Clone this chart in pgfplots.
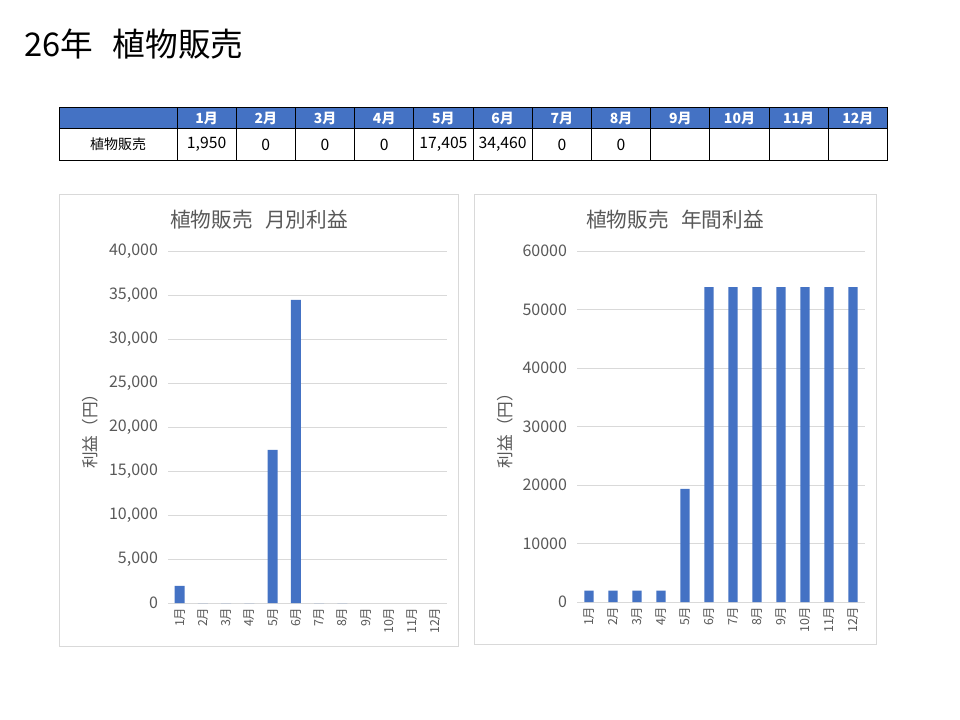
\documentclass[border=0pt]{standalone}
\usepackage{fontspec}
\setmainfont{Noto Sans CJK JP}
\usepackage{pgfplots}
\pgfplotsset{compat=1.18}

\definecolor{barblue}{HTML}{4472C4}
\definecolor{txtgray}{HTML}{595959}
\definecolor{gridgray}{HTML}{D9D9D9}
\newcommand{\fs}[1]{\fontsize{#1}{#1}\selectfont}

\pgfplotsset{
  chartstyle/.style={
    scale only axis, ybar, ymin=0,
    xmin=0.5, xmax=12.5, xtick={1,...,12},
    xticklabels={1月,2月,3月,4月,5月,6月,7月,8月,9月,10月,11月,12月},
    major tick length=0,
    ymajorgrids, grid style={gridgray, line width=0.75pt},
    axis x line*=bottom, axis y line*=left,
    x axis line style={-, draw=gridgray, line width=0.75pt},
    y axis line style={draw=none},
    tick label style={text=txtgray},
    xticklabel style={font=\fs{9.3pt}, rotate=90, anchor=east},
    yticklabel style={font=\fs{12pt}, xshift=-4pt},
    scaled y ticks=false,
    /pgf/number format/assume math mode=true,
    ylabel={利益（円）},
  },
}

\begin{document}
\begin{tikzpicture}
\begin{scope}[x=0.75pt,y=-0.75pt]
  \fill[white] (0,0) rectangle (960,720);
  % title
  \node[anchor=west, inner sep=0pt, font=\fs{24.5pt}] at (24,44) {26年\hspace{0.6em}植物販売};
  % table
  \fill[barblue] (59.5,107.5) rectangle (887.5,128.5);
  \draw[black, line width=0.75pt] (59.5,107.5) rectangle (887.5,161);
  \draw[black, line width=0.75pt] (59.5,128.5) -- (887.5,128.5);
  \foreach \k in {0,...,11} {
    \draw[black, line width=0.75pt] ({177+59.21*\k},107.5) -- ({177+59.21*\k},161);
  }
  \foreach \m in {1,...,12} {
    \node[text=white, font=\bfseries\fs{10.5pt}] at ({177+59.21*(\m-0.5)},118) {\m 月};
  }
  \node[font=\fs{10.5pt}] at (118,144.5) {植物販売};
  \foreach \m/\v in {1/{1,950},2/0,3/0,4/0,5/{17,405},6/{34,460},7/0,8/0} {
    \node[font=\fs{11.8pt}] at ({177+59.21*(\m-0.5)},144.5) {\v};
  }
  % chart panels
  \draw[gridgray, line width=0.75pt] (59.5,194.5) rectangle (458,646.5);
  \draw[gridgray, line width=0.75pt] (474.5,194.5) rectangle (876.5,644.5);
  \node[text=txtgray, font=\fs{15.5pt}] at (259,220) {植物販売\hspace{0.6em}月別利益};
  \node[text=txtgray, font=\fs{15.5pt}] at (675,220) {植物販売\hspace{0.6em}年間利益};
\end{scope}

\begin{axis}[chartstyle,
  at={(126pt,-452.25pt)}, anchor=south west,
  width=209.25pt, height=264pt,
  ymax=40000, ytick={0,5000,...,40000},
  /pgf/number format/.cd, fixed, 1000 sep={,}, /tikz/.cd,
  every axis y label/.style={at={(axis description cs:-0.28,0.5)}, rotate=90, anchor=center, font=\fs{12.5pt}, text=txtgray},
  bar width=7.5pt,
]
\addplot[fill=barblue, draw=none] coordinates {
  (1,1950) (2,0) (3,0) (4,0) (5,17405) (6,34460) (7,0) (8,0)
};
\end{axis}

\begin{axis}[chartstyle,
  at={(432.75pt,-451.5pt)}, anchor=south west,
  width=216pt, height=263.25pt,
  ymax=60000, ytick={0,10000,...,60000},
  /pgf/number format/.cd, fixed, 1000 sep={}, /tikz/.cd,
  every axis y label/.style={at={(axis description cs:-0.25,0.5)}, rotate=90, anchor=center, font=\fs{12.5pt}, text=txtgray},
  bar width=7pt,
]
\addplot[fill=barblue, draw=none] coordinates {
  (1,1950) (2,1950) (3,1950) (4,1950) (5,19355) (6,53815)
  (7,53815) (8,53815) (9,53815) (10,53815) (11,53815) (12,53815)
};
\end{axis}
\end{tikzpicture}
\end{document}
